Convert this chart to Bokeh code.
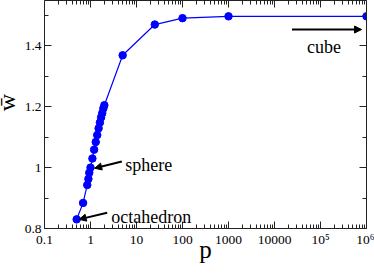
import math
from bokeh.plotting import figure
from bokeh.models import (LogAxis, LinearAxis, FixedTicker, Range1d, Label, Arrow,
                          NormalHead, ColumnDataSource, CustomJSTickFormatter)
from bokeh.embed import file_html
from bokeh.resources import INLINE

# ---- data ----
p_vals = [0.5, 0.69, 0.85, 0.9, 0.94, 1.0, 1.1, 1.2, 1.3, 1.4, 1.5, 1.6, 1.7, 1.8, 1.9, 2.0,
          5, 25, 100, 1000, 1e6]
w_vals = [0.83, 0.884, 0.943, 0.963, 0.983, 1.0, 1.03, 1.059, 1.084, 1.107, 1.129, 1.148,
          1.165, 1.179, 1.194, 1.205, 1.369, 1.47, 1.491, 1.497, 1.497]

x_ticks = [0.1, 1, 10, 100, 1000, 10000, 1e5, 1e6]
x_labels = ["0.1", "1", "10", "100", "1000", "10000", "10\u2075", "10\u2076"]
y_ticks = [0.8, 1.0, 1.2, 1.4]
y_labels = ["0.8", "1", "1.2", "1.4"]
y_minor = [0.9, 1.1, 1.3, 1.5]

# annotations (data coordinates)
ann_texts = ["cube", "sphere", "octahedron"]
ann_text_x = [5.1e4, 5.7, 2.83]
ann_text_y = [1.396, 1.007, 0.839]
arr_x0 = [2.4e4, 4.8, 2.3]
arr_y0 = [1.4536, 1.020, 0.852]
arr_x1 = [7.8e5, 1.23, 0.566]
arr_y1 = [1.4536, 0.998, 0.830]

x_minor = [m * d for d in x_ticks[:-1] for m in range(2, 10)]

FONT = "Liberation Serif"
AX = "#222222"

p = figure(width=384, height=273, x_axis_type="log",
           x_range=Range1d(0.1, 1e6), y_range=Range1d(0.8, 1.549),
           output_backend="svg", toolbar_location=None,
           min_border_left=50, min_border_right=8, min_border_top=0, min_border_bottom=45)
p.styles = {"margin-left": "-10px"}
p.xgrid.visible = False
p.ygrid.visible = False
p.outline_line_color = None
p.background_fill_color = "white"
p.border_fill_color = "white"

def make_formatter(ticks, labels):
    items = ",".join('"%r":"%s"' % (float(t), l) for t, l in zip(ticks, labels))
    code = ("const m = {%s};"
            "for (const k of Object.keys(m)) { if (Math.abs(parseFloat(k) - tick) <= 1e-9 * Math.max(1, Math.abs(tick))) return m[k]; }"
            "return '';") % items
    return CustomJSTickFormatter(code=code)

def style_axis(ax, show_labels):
    ax.axis_line_color = AX
    ax.major_tick_line_color = AX
    ax.minor_tick_line_color = AX
    ax.major_tick_in = 7
    ax.major_tick_out = 0
    ax.minor_tick_in = 4
    ax.minor_tick_out = 0
    ax.major_label_text_font = FONT
    ax.major_label_text_color = "black"
    if show_labels:
        ax.major_label_text_font_size = "13.5px"
        ax.major_label_standoff = 3
    else:
        ax.formatter = CustomJSTickFormatter(code="return ''")
        ax.major_label_text_font_size = "1px"
        ax.major_label_standoff = 0

xa = p.xaxis[0]
xa.ticker = FixedTicker(ticks=x_ticks, minor_ticks=x_minor)
style_axis(xa, True)
xa.formatter = make_formatter(x_ticks, x_labels)
xa.axis_label = "p"
xa.axis_label_text_font = FONT
xa.axis_label_text_font_size = "25px"
xa.axis_label_text_font_style = "normal"
xa.axis_label_text_color = "black"
xa.axis_label_standoff = -14

ya = p.yaxis[0]
ya.ticker = FixedTicker(ticks=y_ticks, minor_ticks=y_minor)
style_axis(ya, True)
ya.formatter = make_formatter(y_ticks, y_labels)
ya.axis_label = "\u00a0\u00a0\u00a0\u00a0w\u0304"
ya.axis_label_text_font = FONT
ya.axis_label_text_font_size = "24px"
ya.axis_label_text_font_style = "normal"
ya.axis_label_text_color = "black"
ya.axis_label_standoff = 2

top = LogAxis(ticker=FixedTicker(ticks=x_ticks, minor_ticks=x_minor))
style_axis(top, False)
p.add_layout(top, "above")
right = LinearAxis(ticker=FixedTicker(ticks=y_ticks, minor_ticks=y_minor))
style_axis(right, False)
p.add_layout(right, "right")

src = ColumnDataSource(dict(p=p_vals, w=w_vals))
p.line("p", "w", source=src, line_color="#0000ff", line_width=1.2)
p.scatter("p", "w", source=src, size=7.5, fill_color="#0000ff", line_color="#0000ff")

for i in range(len(ann_texts)):
    p.add_layout(Arrow(end=NormalHead(size=7, fill_color="black", line_color="black"),
                       x_start=arr_x0[i], y_start=arr_y0[i], x_end=arr_x1[i], y_end=arr_y1[i],
                       line_color="black", line_width=2))
    p.add_layout(Label(x=ann_text_x[i], y=ann_text_y[i], text=ann_texts[i],
                       text_font=FONT, text_font_size="18px", text_color="black",
                       text_align="left", text_baseline="alphabetic"))

open("out.html", "w").write(file_html(p, INLINE))
